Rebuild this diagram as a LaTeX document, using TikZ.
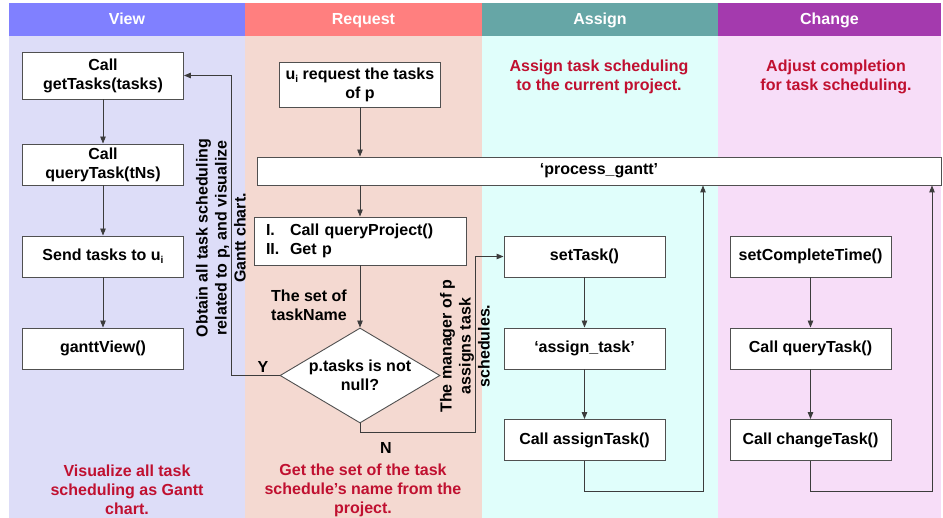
\documentclass[tikz,border=0pt]{standalone}
\usepackage{fontspec}
\setmainfont{Liberation Sans}
\usetikzlibrary{shapes.geometric,arrows.meta}
\definecolor{viewhead}{RGB}{128,128,255}
\definecolor{viewbody}{RGB}{221,221,248}
\definecolor{reqhead}{RGB}{255,127,127}
\definecolor{reqbody}{RGB}{244,217,209}
\definecolor{asghead}{RGB}{102,166,166}
\definecolor{asgbody}{RGB}{224,254,251}
\definecolor{chghead}{RGB}{164,58,174}
\definecolor{chgbody}{RGB}{247,221,248}
\definecolor{descred}{RGB}{192,16,48}
\definecolor{linegray}{RGB}{60,60,60}
\definecolor{boxgray}{RGB}{80,80,80}
\newcommand\myfont{\bfseries\fontsize{16}{19}\selectfont}
\begin{document}
\begin{tikzpicture}[x=1pt,y=-1pt,
  every node/.style={font=\myfont},
  box/.style={draw=boxgray, fill=white, line width=0.9pt, align=center, inner sep=2pt,
              minimum width=161pt, minimum height=41pt},
  arr/.style={-{Triangle[length=7pt,width=5.5pt]}, draw=linegray, line width=0.9pt},
  head/.style={text=white, text height=12pt, text depth=3.5pt},
  desc/.style={text=descred, align=center},
  lbl/.style={text=black, align=center}]
\useasboundingbox (0,0) rectangle (943,518);
% lanes
\fill[viewbody] (9,36) rectangle (245,518);
\fill[reqbody] (245,36) rectangle (482,518);
\fill[asgbody] (482,36) rectangle (718,518);
\fill[chgbody] (718,36) rectangle (941,518);
\fill[viewhead] (9,3) rectangle (245,36);
\fill[reqhead] (245,3) rectangle (482,36);
\fill[asghead] (482,3) rectangle (718,36);
\fill[chghead] (718,3) rectangle (941,36);
\node[head] (hview) at (127,20) {View};
\node[head] (hreq) at (363.5,20) {Request};
\node[head] (hasg) at (600,20) {Assign};
\node[head] (hchg) at (829.5,20) {Change};
% descriptions
\node[desc] (dasg) at (599,77) {Assign task scheduling\\to the current project.};
\node[desc] (dchg) at (836,77) {Adjust completion\\for task scheduling.};
\node[desc] (dview) at (127,490) {Visualize all task\\scheduling as Gantt\\chart.};
\node[desc] (dreq) at (363,490) {Get the set of the task\\schedule’s name from the\\project.};
% view lane
\node[box, minimum height=47pt] (gt) at (103,75.5) {Call\\getTasks(tasks)};
\node[box] (qt) at (103,164.5) {Call\\queryTask(tNs)};
\node[box] (snd) at (103,256.5) {Send tasks to u\raisebox{-3pt}{\fontsize{10}{10}\selectfont i}};
\node[box] (gv) at (103,348.5) {ganttView()};
% request lane
\node[box, minimum height=45pt] (req) at (360,84.5) {u\raisebox{-3pt}{\fontsize{10}{10}\selectfont i} request the tasks\\of p};
\node[box, minimum width=684pt, minimum height=28pt] (pg) at (599,171) {‘process\_gantt’};
\node[box, minimum width=212pt, minimum height=48pt, align=left, text width=188pt, inner xsep=12pt] (qp) at (360,241)
  {\begin{tabular}{@{}l@{\ \ }l@{}}I. & Call queryProject()\\ II. & Get p\end{tabular}};
\node[diamond, draw=boxgray, fill=white, line width=0.9pt, align=center, inner sep=0pt,
      minimum width=160pt, minimum height=95pt, aspect=1.68] (dia) at (360,375.5) {p.tasks is not\\null?};
% assign lane
\node[box] (st) at (584.5,256.5) {setTask()};
\node[box] (at) at (584.5,348.5) {‘assign\_task’};
\node[box] (cat) at (584.5,440) {Call assignTask()};
% change lane
\node[box] (sct) at (810.5,256.5) {setCompleteTime()};
\node[box] (cqt) at (810.5,348.5) {Call queryTask()};
\node[box] (cct) at (810.5,440) {Call changeTask()};
% labels
\node[lbl] (tsn) at (309,305) {The set of\\taskName};
\node[lbl] (ly) at (263,367) {Y};
\node[lbl] (ln) at (386,448) {N};
\node[lbl, rotate=90] (obt) at (221,238) {Obtain all task scheduling\\related to p, and visualize\\Gantt chart.};
\node[lbl, rotate=90] (mgr) at (465,346) {The manager of p\\assigns task\\schedules.};
% corner coordinates
\coordinate (ycorner) at (231,375.5);
\coordinate (ncorner) at (475,432);
\coordinate (acorner) at (703,491);
\coordinate (ccorner) at (932,491);
% connectors
\draw[arr] (gt) -- (qt);
\draw[arr] (qt) -- (snd);
\draw[arr] (snd) -- (gv);
\draw[arr] (req.south) -- (req.south |- pg.north);
\draw[arr] (qp.north |- pg.south) -- (qp.north);
\draw[arr] (qp) -- (dia);
\draw[arr] (dia.west) -- (ycorner) |- (gt.east);
\draw[arr] (dia.south) |- (ncorner) |- (st.west);
\draw[arr] (st) -- (at);
\draw[arr] (at) -- (cat);
\draw[arr] (cat.south) |- (acorner) -- (acorner |- pg.south);
\draw[arr] (sct) -- (cqt);
\draw[arr] (cqt) -- (cct);
\draw[arr] (cct.south) |- (ccorner) -- (ccorner |- pg.south);
\end{tikzpicture}
\end{document}
